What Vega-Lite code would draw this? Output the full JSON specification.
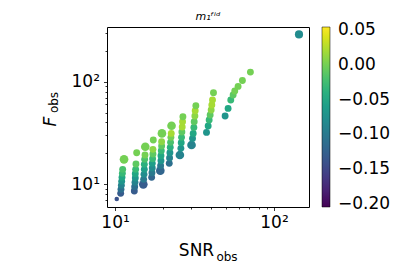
{
  "$schema": "https://vega.github.io/schema/vega-lite/v6.json",
  "width": 202,
  "height": 180,
  "autosize": {"type": "none"},
  "padding": {"left": 107, "top": 27, "right": 90, "bottom": 59},
  "background": "white",
  "title": {"text": "m₁ᶠⁱᵈ", "fontSize": 11, "fontStyle": "italic", "fontWeight": "normal", "offset": 5, "anchor": "middle", "color": "black"},
  "config": {
    "font": "DejaVu Sans",
    "view": {"stroke": "black", "strokeWidth": 1},
    "axis": {"tickColor": "black", "labelColor": "black", "titleColor": "black", "domain": false, "grid": false, "titleFontWeight": "normal", "labelFlush": false, "tickWidth": 0.8},
    "legend": {"labelColor": "black", "padding": 0}
  },
  "data": {"values": [
    {"x": 10.25, "y": 7.13, "c": -0.14, "w": 1},
    {"x": 10.85, "y": 8.10, "c": -0.13, "w": 2},
    {"x": 10.90, "y": 8.87, "c": -0.11, "w": 2},
    {"x": 10.96, "y": 9.70, "c": -0.09, "w": 2},
    {"x": 11.01, "y": 10.62, "c": -0.07, "w": 2},
    {"x": 11.06, "y": 11.62, "c": -0.05, "w": 2},
    {"x": 11.12, "y": 12.71, "c": -0.03, "w": 2},
    {"x": 11.17, "y": 13.91, "c": -0.02, "w": 2},
    {"x": 11.39, "y": 17.42, "c": 0.0, "w": 3},
    {"x": 13.22, "y": 8.54, "c": -0.13, "w": 2},
    {"x": 13.29, "y": 9.42, "c": -0.11, "w": 2},
    {"x": 13.35, "y": 10.38, "c": -0.09, "w": 2},
    {"x": 13.41, "y": 11.45, "c": -0.07, "w": 2},
    {"x": 13.41, "y": 12.61, "c": -0.05, "w": 2},
    {"x": 13.48, "y": 13.91, "c": -0.03, "w": 2},
    {"x": 13.54, "y": 15.68, "c": -0.01, "w": 2},
    {"x": 13.68, "y": 20.24, "c": 0.0, "w": 2},
    {"x": 15.06, "y": 9.93, "c": -0.13, "w": 3},
    {"x": 15.13, "y": 11.11, "c": -0.10, "w": 2},
    {"x": 15.21, "y": 12.43, "c": -0.08, "w": 2},
    {"x": 15.28, "y": 13.91, "c": -0.06, "w": 2},
    {"x": 15.28, "y": 15.57, "c": -0.04, "w": 2},
    {"x": 15.35, "y": 17.42, "c": -0.02, "w": 2},
    {"x": 15.43, "y": 19.20, "c": 0.0, "w": 2},
    {"x": 15.50, "y": 23.16, "c": 0.0, "w": 3},
    {"x": 16.99, "y": 11.62, "c": -0.12, "w": 2},
    {"x": 17.07, "y": 12.90, "c": -0.10, "w": 2},
    {"x": 17.15, "y": 14.33, "c": -0.08, "w": 2},
    {"x": 17.15, "y": 15.92, "c": -0.06, "w": 2},
    {"x": 17.23, "y": 17.68, "c": -0.03, "w": 2},
    {"x": 17.31, "y": 19.64, "c": -0.01, "w": 2},
    {"x": 17.31, "y": 21.82, "c": 0.01, "w": 2},
    {"x": 17.40, "y": 26.91, "c": 0.0, "w": 2},
    {"x": 19.26, "y": 13.50, "c": -0.12, "w": 3},
    {"x": 19.35, "y": 15.11, "c": -0.10, "w": 2},
    {"x": 19.45, "y": 16.90, "c": -0.07, "w": 2},
    {"x": 19.45, "y": 18.92, "c": -0.05, "w": 2},
    {"x": 19.54, "y": 21.17, "c": -0.03, "w": 2},
    {"x": 19.63, "y": 23.51, "c": -0.01, "w": 2},
    {"x": 19.63, "y": 25.93, "c": 0.01, "w": 2},
    {"x": 19.72, "y": 31.27, "c": 0.0, "w": 3},
    {"x": 21.93, "y": 15.92, "c": -0.11, "w": 2},
    {"x": 22.03, "y": 17.95, "c": -0.09, "w": 2},
    {"x": 22.14, "y": 20.24, "c": -0.07, "w": 2},
    {"x": 22.25, "y": 22.82, "c": -0.04, "w": 2},
    {"x": 22.35, "y": 25.54, "c": -0.02, "w": 2},
    {"x": 22.46, "y": 28.58, "c": 0.0, "w": 2},
    {"x": 22.57, "y": 31.27, "c": 0.02, "w": 2},
    {"x": 22.67, "y": 37.15, "c": 0.0, "w": 3},
    {"x": 25.58, "y": 19.20, "c": -0.09, "w": 3},
    {"x": 25.95, "y": 22.31, "c": -0.07, "w": 2},
    {"x": 26.08, "y": 25.35, "c": -0.05, "w": 2},
    {"x": 26.20, "y": 28.58, "c": -0.03, "w": 2},
    {"x": 26.33, "y": 32.23, "c": -0.01, "w": 2},
    {"x": 26.46, "y": 36.06, "c": 0.02, "w": 2},
    {"x": 26.59, "y": 40.66, "c": 0.02, "w": 2},
    {"x": 26.72, "y": 45.50, "c": 0.0, "w": 2},
    {"x": 30.28, "y": 24.05, "c": -0.09, "w": 3},
    {"x": 30.72, "y": 27.94, "c": -0.07, "w": 2},
    {"x": 31.02, "y": 31.27, "c": -0.05, "w": 2},
    {"x": 31.32, "y": 35.79, "c": -0.03, "w": 2},
    {"x": 31.47, "y": 40.66, "c": -0.01, "w": 2},
    {"x": 31.78, "y": 46.19, "c": 0.01, "w": 2},
    {"x": 31.93, "y": 52.07, "c": 0.02, "w": 2},
    {"x": 32.24, "y": 58.30, "c": 0.0, "w": 2},
    {"x": 37.61, "y": 31.98, "c": -0.07, "w": 2},
    {"x": 38.53, "y": 36.88, "c": -0.05, "w": 2},
    {"x": 39.09, "y": 42.21, "c": -0.03, "w": 2},
    {"x": 39.66, "y": 47.24, "c": -0.01, "w": 2},
    {"x": 40.24, "y": 52.85, "c": 0.01, "w": 2},
    {"x": 40.63, "y": 59.16, "c": 0.02, "w": 2},
    {"x": 41.02, "y": 66.21, "c": 0.02, "w": 2},
    {"x": 41.62, "y": 78.07, "c": 0.0, "w": 2},
    {"x": 49.25, "y": 46.19, "c": -0.07, "w": 2},
    {"x": 51.43, "y": 54.87, "c": -0.05, "w": 2},
    {"x": 53.46, "y": 66.21, "c": -0.03, "w": 2},
    {"x": 55.30, "y": 74.08, "c": -0.01, "w": 2},
    {"x": 56.64, "y": 81.08, "c": 0.0, "w": 2},
    {"x": 59.43, "y": 90.03, "c": 0.0, "w": 2},
    {"x": 63.27, "y": 103.0, "c": 0.0, "w": 2},
    {"x": 71.04, "y": 124.3, "c": 0.0, "w": 2},
    {"x": 143.6, "y": 290, "c": -0.08, "w": 2.7}
  ]},
  "layer": [
    {
      "mark": {"type": "point", "opacity": 0},
      "encoding": {
        "x": {"field": "x", "type": "quantitative", "scale": {"type": "log", "domain": [8.9, 166], "nice": false},
          "axis": {"orient": "bottom", "values": [20, 30, 40, 50, 60, 70, 80, 90], "labels": false, "tickSize": 2, "title": "obs", "titleFontSize": 12, "titleX": 119.5, "titleY": 53, "titleAlign": "center", "titleBaseline": "alphabetic"}},
        "y": {"field": "y", "type": "quantitative", "scale": {"type": "log", "domain": [5.96, 343], "nice": false},
          "axis": {"orient": "left", "values": [7, 8, 9, 20, 30, 40, 50, 60, 70, 80, 90, 200, 300], "labels": false, "tickSize": 2, "title": "obs", "titleFontSize": 12, "titleAngle": -90, "titleX": -50, "titleY": 75, "titleAlign": "center", "titleBaseline": "alphabetic"}}
      }
    },
    {
      "mark": {"type": "circle", "opacity": 1},
      "encoding": {
        "x": {"field": "x", "type": "quantitative", "scale": {"type": "log", "domain": [8.9, 166], "nice": false},
          "axis": {"orient": "bottom", "values": [10, 100], "labelExpr": "datum.value == 10 ? '10¹' : '10²'", "labelFontSize": 17, "tickSize": 3.5, "labelPadding": 4, "title": "SNR", "titleFontSize": 17, "titleX": 89, "titleY": 48, "titleAlign": "center", "titleBaseline": "alphabetic"}},
        "y": {"field": "y", "type": "quantitative", "scale": {"type": "log", "domain": [5.96, 343], "nice": false},
          "axis": {"orient": "left", "values": [10, 100], "labelExpr": "datum.value == 10 ? '10¹' : '10²'", "labelFontSize": 17, "tickSize": 3.5, "labelPadding": 4, "title": "F", "titleFontSize": 17, "titleFontStyle": "italic", "titleAngle": -90, "titleX": -52, "titleY": 94, "titleAlign": "center", "titleBaseline": "alphabetic"}},
        "color": {"field": "c", "type": "quantitative", "scale": {"scheme": "viridis", "domain": [-0.204, 0.054]},
          "legend": {"title": null, "orient": "right", "offset": 13, "values": [-0.2, -0.15, -0.1, -0.05, 0, 0.05], "format": ".2f", "gradientLength": 180, "gradientThickness": 8, "labelFontSize": 17, "labelOffset": 8, "gradientStrokeColor": "black", "gradientStrokeWidth": 0.5, "direction": "vertical"}},
        "size": {"field": "w", "type": "quantitative", "scale": {"domain": [1, 3], "range": [20, 75]}, "legend": null}
      }
    }
  ],
  "resolve": {"axis": {"x": "independent", "y": "independent"}}
}
